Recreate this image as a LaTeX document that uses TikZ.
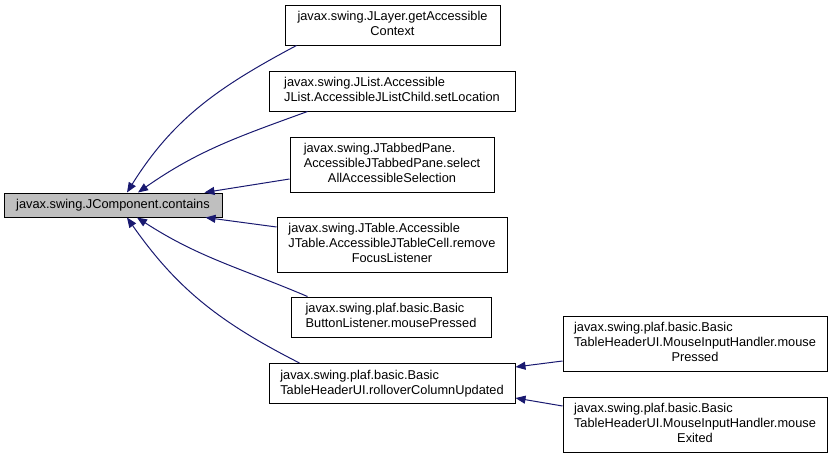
\documentclass[tikz,border=0pt]{standalone}
\usepackage{fontspec}
\setmainfont{Liberation Sans}
\definecolor{edgeblue}{RGB}{25, 25, 112}
\usetikzlibrary{arrows.meta, calc}
\newcommand{\fnlines}[2]{\begin{tabular}{@{}l@{}}#1\\\multicolumn{1}{@{}c@{}}{#2}\end{tabular}}

\begin{document}
\begin{tikzpicture}[
  x=0.75pt, y=-0.75pt,
  fn/.style={rectangle, draw=black, line width=0.75pt, fill=white, inner sep=0pt, align=center, font=\fontsize{9.6}{11.25}\selectfont},
  root/.style={fn, fill=black!25},
  arr/.style={-{Triangle[length=7.5pt, width=6pt]}, line width=0.75pt, draw=edgeblue}
]
  \useasboundingbox (0,0) rectangle (832,457);
  \node[root, minimum width=218*0.75pt, minimum height=24*0.75pt] (contains) at (113,205) {javax.swing.JComponent.contains};
  \node[fn, minimum width=215*0.75pt, minimum height=40*0.75pt] (jlayer) at (392.5,25) {\fnlines{javax.swing.JLayer.getAccessible}{Context}};
  \node[fn, minimum width=246*0.75pt, minimum height=40*0.75pt] (jlist) at (392,91) {\fnlines{javax.swing.JList.Accessible}{JList.AccessibleJListChild.setLocation}};
  \node[fn, minimum width=204*0.75pt, minimum height=55*0.75pt] (tabbed) at (392,164.5) {\fnlines{javax.swing.JTabbedPane.\\AccessibleJTabbedPane.select}{AllAccessibleSelection}};
  \node[fn, minimum width=230*0.75pt, minimum height=55*0.75pt] (jtable) at (392,244.5) {\fnlines{javax.swing.JTable.Accessible\\JTable.AccessibleJTableCell.remove}{FocusListener}};
  \node[fn, minimum width=200*0.75pt, minimum height=40*0.75pt] (button) at (391,317) {\fnlines{javax.swing.plaf.basic.Basic}{ButtonListener.mousePressed}};
  \node[fn, minimum width=246*0.75pt, minimum height=40*0.75pt] (rollover) at (392,383.5) {\fnlines{javax.swing.plaf.basic.Basic}{TableHeaderUI.rolloverColumnUpdated}};
  \node[fn, minimum width=264*0.75pt, minimum height=55*0.75pt] (pressed) at (695,343.5) {\fnlines{javax.swing.plaf.basic.Basic\\TableHeaderUI.MouseInputHandler.mouse}{Pressed}};
  \node[fn, minimum width=264*0.75pt, minimum height=55*0.75pt] (exited) at (695,424.5) {\fnlines{javax.swing.plaf.basic.Basic\\TableHeaderUI.MouseInputHandler.mouse}{Exited}};
  % callers of contains
  \draw[arr] ($(jlayer.south west)+(12,0)$) to[out=208, in=58] ($(contains.north)+(14,0)$);
  \draw[arr] ($(jlist.south west)+(39,0)$) to[out=200, in=35] ($(contains.north)+(25,0)$);
  \draw[arr] ($(tabbed.west)+(0,14.5)$) -- ($(contains.north east)+(-18,0)$);
  \draw[arr] ($(jtable.west)+(0,-17.5)$) -- ($(contains.south east)+(-17,0)$);
  \draw[arr] ($(button.north west)+(17,0)$) to[out=157, in=-33] ($(contains.south)+(24,0)$);
  \draw[arr] ($(rollover.north west)+(31,0)$) to[out=153, in=-55] ($(contains.south)+(14,0)$);
  % callers of rolloverColumnUpdated
  \draw[arr] ($(pressed.west)+(0,17.5)$) -- ($(rollover.east)+(0,-16.5)$);
  \draw[arr] ($(exited.west)+(0,-18.5)$) -- ($(rollover.east)+(0,14.5)$);
\end{tikzpicture}
\end{document}
